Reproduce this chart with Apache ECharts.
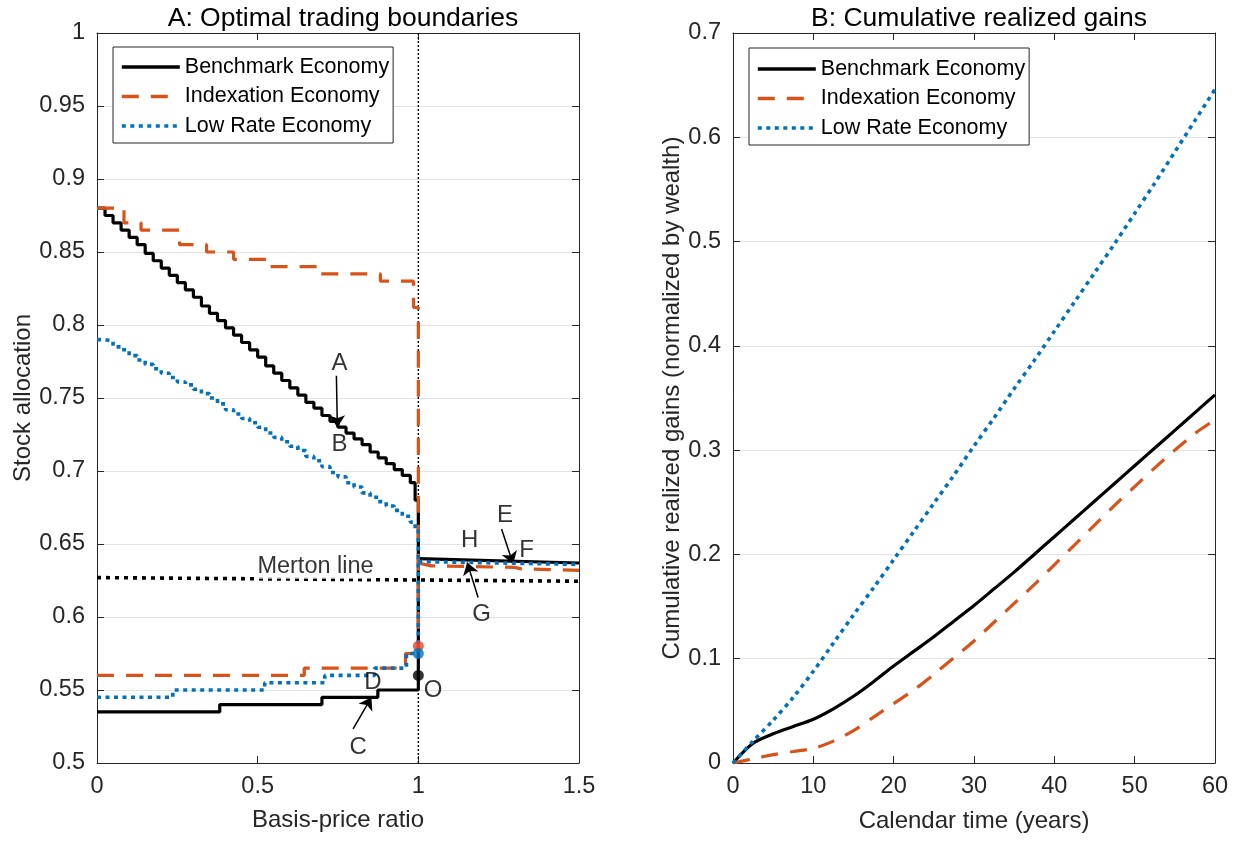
<!DOCTYPE html>
<html>
<head>
<meta charset="utf-8">
<script src="https://cdn.jsdelivr.net/npm/echarts@6/dist/echarts.min.js"></script>
<style>
  html, body { margin: 0; padding: 0; background: #fff; }
  #main { width: 1238px; height: 844px; }
</style>
</head>
<body>
<div id="main"></div>
<script>
// ---------- Panel A: optimal trading boundaries ([basis-price ratio, stock allocation]) ----------
// upper (sell) boundaries, drawn as steps, ending with the drop at ratio = 1
var benchUpper = [[0,0.880],[0.025,0.875],[0.05,0.870],[0.075,0.865],[0.1,0.860],[0.125,0.855],[0.15,0.849],
  [0.175,0.844],[0.2,0.839],[0.225,0.834],[0.25,0.829],[0.275,0.824],[0.3,0.819],[0.325,0.813],[0.35,0.808],
  [0.375,0.803],[0.4,0.798],[0.425,0.793],[0.45,0.788],[0.475,0.783],[0.5,0.778],[0.525,0.772],[0.55,0.767],
  [0.575,0.762],[0.6,0.757],[0.625,0.752],[0.65,0.747],[0.675,0.743],[0.7,0.738],[0.725,0.734],[0.75,0.730],
  [0.775,0.726],[0.8,0.722],[0.825,0.718],[0.85,0.713],[0.875,0.709],[0.9,0.705],[0.925,0.701],[0.95,0.697],
  [0.975,0.692],[0.99,0.680],[1.0,0.560]];
var indexUpper = [[0,0.880],[0.084,0.870],[0.137,0.865],[0.257,0.855],[0.341,0.850],[0.425,0.845],
  [0.537,0.840],[0.693,0.835],[0.882,0.830],[0.985,0.812],[1.0,0.580]];
var lowRateUpper = [[0,0.790],[0.025,0.789],[0.05,0.785],[0.075,0.783],[0.1,0.779],[0.125,0.776],[0.15,0.773],
  [0.175,0.770],[0.2,0.767],[0.225,0.764],[0.25,0.761],[0.275,0.759],[0.3,0.756],[0.325,0.753],[0.35,0.750],
  [0.375,0.746],[0.4,0.742],[0.425,0.739],[0.45,0.736],[0.475,0.733],[0.5,0.730],[0.525,0.726],[0.55,0.723],
  [0.575,0.720],[0.6,0.717],[0.625,0.714],[0.65,0.710],[0.675,0.707],[0.7,0.703],[0.725,0.699],[0.75,0.696],
  [0.775,0.692],[0.8,0.689],[0.825,0.685],[0.85,0.682],[0.875,0.679],[0.9,0.676],[0.925,0.673],[0.95,0.669],
  [0.975,0.665],[0.99,0.660],[1.0,0.575]];
// lower (buy) boundaries
var benchLower = [[0,0.535],[0.382,0.540],[0.700,0.545],[0.874,0.550],[0.985,0.550],[1.0,0.560]];
var indexLower = [[0,0.560],[0.645,0.565],[0.960,0.575],[1.0,0.580]];
var lowRateLower = [[0,0.545],[0.236,0.550],[0.522,0.555],[0.709,0.560],[0.864,0.565],[0.963,0.575],[1.0,0.575]];
// boundaries for ratio > 1
var benchRight = [[1.0,0.640],[1.5,0.637]];
var indexRight = [[1.0,0.637],[1.04,0.635],[1.30,0.634],[1.32,0.633],[1.5,0.632]];
var lowRateRight = [[1.0,0.638],[1.5,0.636]];
var mertonLine = [[0,0.627],[1.5,0.6245]];
var ratioOneLine = [[1,0.5],[1,1]];
// points O at ratio 1
var indexDot = [[1,0.580]];
var lowRateDot = [[1,0.575]];
var benchDot = [[1,0.560]];
// text labels [text, x, y] and arrows [x1, y1, x2, y2]
var annoLabels = [['A',0.755,0.774],['B',0.755,0.7185],['C',0.8125,0.511],['D',0.859,0.5552],['O',1.046,0.5495],
  ['E',1.2695,0.6694],['F',1.337,0.6454],['H',1.160,0.6523],['G',1.197,0.602]];
var annoArrows = [[0.745,0.7653,0.748,0.7299],[0.797,0.5233,0.854,0.545],[1.259,0.6603,1.295,0.6363],
  [1.186,0.6134,1.152,0.6374]];
var mertonText = ['Merton line',0.68,0.6345];

// ---------- Panel B: cumulative realized gains ----------
var years = [0,2.5,5,7.5,10,12.5,15,17.5,20,22.5,25,27.5,30,32.5,35,37.5,40,42.5,45,47.5,50,52.5,55,57.5,60];
var benchGains = [0,0.019,0.028,0.035,0.042,0.052,0.064,0.078,0.093,0.107,0.121,0.136,0.151,0.167,0.183,0.200,
  0.217,0.234,0.251,0.268,0.285,0.302,0.319,0.336,0.353];
var indexGains = [0,0.004,0.008,0.011,0.014,0.021,0.031,0.044,0.057,0.070,0.085,0.101,0.117,0.135,0.153,0.171,
  0.190,0.209,0.228,0.247,0.265,0.283,0.300,0.316,0.329];
var lowRateGains = [0,0.021,0.041,0.063,0.088,0.115,0.142,0.168,0.195,0.222,0.249,0.276,0.304,0.331,0.359,0.386,
  0.414,0.442,0.470,0.498,0.527,0.556,0.586,0.616,0.646];

var names = ['Benchmark Economy', 'Indexation Economy', 'Low Rate Economy'];

var FONT = '"Liberation Sans", Arial, Helvetica, sans-serif';
var AX = '#262626';
var BLACK = '#000000', ORANGE = '#D95319', BLUE = '#0072BD';
var solid = { color: BLACK, width: 3.2 };
var dashed = { color: ORANGE, width: 3.2, type: [17, 12] };
var dotted = { color: BLUE, width: 3.6, type: [4, 4.5] };

function zip(xs, ys) { return xs.map(function (x, i) { return [x, ys[i]]; }); }

function boxAxis(gridIndex, pos, min, max, interval, labels, extra) {
  var a = {
    type: 'value', gridIndex: gridIndex, position: pos, min: min, max: max, interval: interval,
    axisLine: { show: true, onZero: false, lineStyle: { color: AX, width: 1 } },
    axisTick: { show: true, inside: true, length: 7, lineStyle: { color: AX, width: 1 } },
    axisLabel: { show: labels, color: AX, fontSize: 23.5, fontFamily: FONT, margin: 12,
      formatter: function (v) { return String(+v.toFixed(2)); } },
    splitLine: { show: false }
  };
  return Object.assign(a, extra || {});
}

function line(name, data, style, xi, yi, step, z) {
  return { name: name, type: 'line', data: data, xAxisIndex: xi, yAxisIndex: yi, step: step || false,
    showSymbol: false, symbol: 'none', lineStyle: style, itemStyle: { color: style.color },
    z: z || 2, animation: false, silent: true };
}

function legendAt(left, top, padTop) {
  return {
    orient: 'vertical', left: left, top: top, data: names, selectedMode: false,
    itemWidth: 58, itemHeight: 20, itemGap: 7.5, padding: [padTop, 4, 6, 7],
    borderColor: AX, borderWidth: 1, backgroundColor: '#fff',
    itemStyle: { opacity: 0 },
    lineStyle: { width: 3.6 },
    textStyle: { fontSize: 21.5, color: '#000', fontFamily: FONT, padding: [0, 0, 0, 0] }
  };
}

var chart = echarts.init(document.getElementById('main'));
var option = {
  backgroundColor: '#fff',
  animation: false,
  textStyle: { fontFamily: FONT },
  title: [
    { text: 'A: Optimal trading boundaries', left: 338, top: 0, textAlign: 'center',
      textStyle: { fontSize: 26.5, fontWeight: 'normal', color: '#000', fontFamily: FONT } },
    { text: 'B: Cumulative realized gains', left: 974, top: 0, textAlign: 'center',
      textStyle: { fontSize: 26.5, fontWeight: 'normal', color: '#000', fontFamily: FONT } }
  ],
  legend: [legendAt(113, 47, 9), legendAt(749, 48, 10)],
  grid: [
    { left: 97, top: 33, width: 482, height: 730 },
    { left: 733, top: 33, width: 482, height: 730 }
  ],
  xAxis: [
    boxAxis(0, 'bottom', 0, 1.5, 0.5, true, { name: 'Basis-price ratio', nameLocation: 'middle', nameGap: 45,
      nameTextStyle: { fontSize: 24, color: AX, fontFamily: FONT } }),
    boxAxis(0, 'top', 0, 1.5, 0.5, false),
    boxAxis(1, 'bottom', 0, 60, 10, true, { name: 'Calendar time (years)', nameLocation: 'middle', nameGap: 46,
      nameTextStyle: { fontSize: 24, color: AX, fontFamily: FONT } }),
    boxAxis(1, 'top', 0, 60, 10, false)
  ],
  yAxis: [
    boxAxis(0, 'left', 0.5, 1, 0.05, true, { name: 'Stock allocation', nameLocation: 'middle', nameGap: 58,
      nameTextStyle: { fontSize: 24, color: AX, fontFamily: FONT },
      splitLine: { show: true, lineStyle: { color: '#e3e3e3', width: 1 } } }),
    boxAxis(0, 'right', 0.5, 1, 0.05, false),
    boxAxis(1, 'left', 0, 0.7, 0.1, true, { name: 'Cumulative realized gains (normalized by wealth)',
      nameLocation: 'middle', nameGap: 48, nameTextStyle: { fontSize: 24, color: AX, fontFamily: FONT },
      splitLine: { show: true, lineStyle: { color: '#e3e3e3', width: 1 } } }),
    boxAxis(1, 'right', 0, 0.7, 0.1, false)
  ],
  series: [
    line('ratio one', ratioOneLine, { color: BLACK, width: 1.4, type: [2, 2] }, 0, 0, false, 1),
    line('merton', mertonLine, { color: BLACK, width: 3.6, type: [4, 5] }, 0, 0, false, 2),
    line(names[0], benchUpper, solid, 0, 0, 'end', 3),
    line('bench lower', benchLower, solid, 0, 0, 'end', 3),
    line('bench right', benchRight, solid, 0, 0, false, 3),
    line(names[1], indexUpper, dashed, 0, 0, 'end', 4),
    line('index lower', indexLower, dashed, 0, 0, 'end', 4),
    line('index right', indexRight, dashed, 0, 0, false, 4),
    line(names[2], lowRateUpper, dotted, 0, 0, 'end', 5),
    line('low lower', lowRateLower, dotted, 0, 0, 'end', 5),
    line('low right', lowRateRight, dotted, 0, 0, false, 5),
    { type: 'scatter', xAxisIndex: 0, yAxisIndex: 0, data: indexDot, symbolSize: 11, z: 6, silent: true,
      itemStyle: { color: '#E8432B' } },
    { type: 'scatter', xAxisIndex: 0, yAxisIndex: 0, data: lowRateDot, symbolSize: 11, z: 7, silent: true,
      itemStyle: { color: BLUE } },
    { type: 'scatter', xAxisIndex: 0, yAxisIndex: 0, data: benchDot, symbolSize: 11, z: 7, silent: true,
      itemStyle: { color: BLACK } },
    {
      type: 'scatter', xAxisIndex: 0, yAxisIndex: 0, symbolSize: 1, z: 8, silent: true,
      itemStyle: { color: 'rgba(0,0,0,0)' },
      label: { show: true, position: 'inside', formatter: '{b}', color: '#000', fontSize: 24, fontFamily: FONT },
      data: annoLabels.map(function (a) { return { name: a[0], value: [a[1], a[2]] }; })
        .concat([{ name: mertonText[0], value: [mertonText[1], mertonText[2]],
          label: { fontSize: 23.5, backgroundColor: '#fff', padding: [0, 2] } }]),
      markLine: {
        silent: true, animation: false, symbol: ['none', 'arrow'], symbolSize: 12,
        lineStyle: { color: '#000', width: 1.5, type: 'solid' }, label: { show: false },
        data: annoArrows.map(function (a) { return [{ coord: [a[0], a[1]] }, { coord: [a[2], a[3]] }]; })
      }
    },
    line(names[0], zip(years, benchGains), solid, 2, 2, false, 3),
    line(names[1], zip(years, indexGains), dashed, 2, 2, false, 4),
    line(names[2], zip(years, lowRateGains), dotted, 2, 2, false, 5)
  ]
};
option.series.slice(-3).forEach(function (s) { s.smooth = 0.3; });
chart.setOption(option);
</script>
</body>
</html>
